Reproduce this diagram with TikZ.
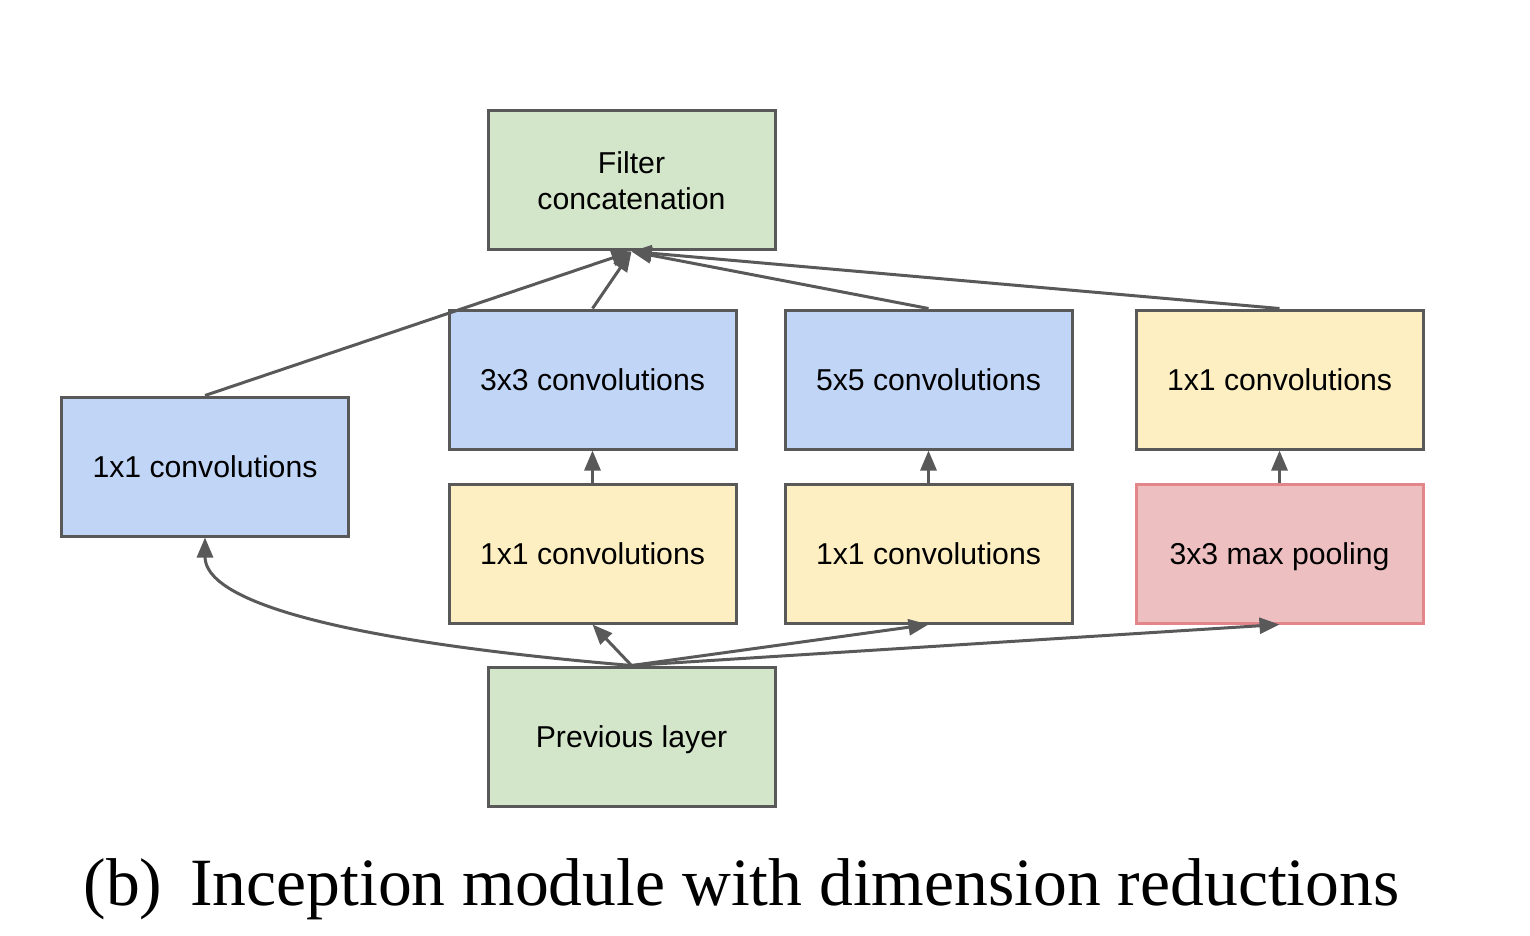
\documentclass[tikz,border=0pt]{standalone}
\usepackage{fontspec}
\setmainfont{Liberation Serif}
\setsansfont{Liberation Sans}
\usetikzlibrary{arrows.meta,positioning}
\definecolor{convblue}{HTML}{C1D5F7}
\definecolor{reduceyellow}{HTML}{FDEFC2}
\definecolor{layergreen}{HTML}{D3E6C9}
\definecolor{poolpink}{HTML}{EDBFC1}
\definecolor{pooledge}{HTML}{E2868A}
\definecolor{edgegray}{HTML}{595959}

\begin{document}
\begin{tikzpicture}[x=0.5pt,y=-0.5pt,
    box/.style={draw=edgegray,line width=1.5pt,minimum width=143.5pt,minimum height=69.5pt,align=center,
      text depth=0pt,font=\sffamily\fontsize{15.1}{18}\selectfont},
    conv/.style={box,fill=convblue},
    reduce/.style={box,fill=reduceyellow},
    layer/.style={box,fill=layergreen},
    pool/.style={box,fill=poolpink,draw=pooledge},
    flow/.style={draw=edgegray,line width=1.5pt,-{Triangle[length=10pt,width=8pt]}}]
    \useasboundingbox (0,0) rectangle (1530,936);
    \node[layer] (concat) at (631.5,180.5) {Filter\\concatenation};
    \node[conv] (c3) at (592.5,379.5) {3x3 convolutions};
    \node[conv,right=23pt of c3] (c5) {5x5 convolutions};
    \node[reduce,right=30.5pt of c5] (pp) {1x1 convolutions};
    \node[reduce,below=16pt of c3] (r3) {1x1 convolutions};
    \node[reduce,below=16pt of c5] (r5) {1x1 convolutions};
    \node[pool,below=16pt of pp] (mp) {3x3 max pooling};
    \node[conv] (c1) at (205,466.5) {1x1 convolutions};
    \node[layer] (prev) at (631.5,736.5) {Previous layer};
    % inputs
    \draw[flow] (prev.north) .. controls (330,640) and (205,600) .. (c1.south);
    \draw[flow] (prev.north) -- (r3.south);
    \draw[flow] (prev.north) -- (r5.south);
    \draw[flow] (prev.north) -- (mp.south);
    % reductions
    \draw[flow] (r3) -- (c3);
    \draw[flow] (r5) -- (c5);
    \draw[flow] (mp) -- (pp);
    % concatenation
    \foreach \src in {c1,c3,c5,pp}
      \draw[flow] (\src.north) -- (concat.south);
    \node[anchor=base,font=\fontsize{33.8}{40}\selectfont] (caption) at (741.5,905)
      {(b)\hspace{14pt}Inception module with dimension reductions};
  \end{tikzpicture}
\end{document}
